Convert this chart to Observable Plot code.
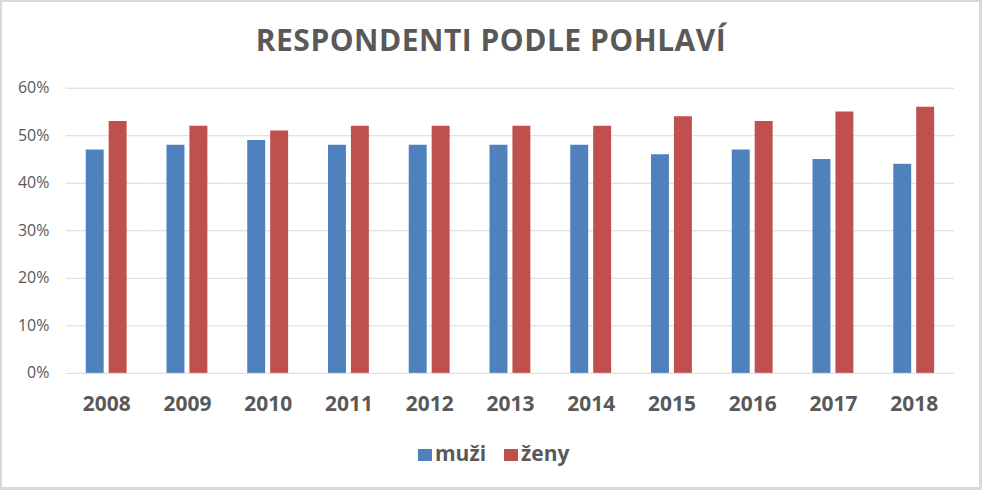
<!DOCTYPE html>
<html>
<head>
<meta charset="utf-8">
<script src="https://cdn.jsdelivr.net/npm/d3@7"></script>
<script src="https://cdn.jsdelivr.net/npm/@observablehq/plot@0.6"></script>
<style>
  html, body { margin: 0; padding: 0; background: #fff; }
  #wrap { position: relative; width: 982px; height: 490px; box-sizing: border-box; border: 2px solid #d9d9d9; border-right-width: 3px; border-bottom-width: 3px; overflow: hidden; font-family: "Open Sans", Lato, sans-serif; }
  #chart { position: absolute; left: -2px; top: -2px; }
  #title { position: absolute; left: -2px; width: 982px; top: 23px; line-height: 30px; text-align: center; font-size: 30px; font-weight: bold; letter-spacing: 0.5px; color: #595959; }
  #legend { position: absolute; left: 416px; top: 441px; display: flex; gap: 18px; font-size: 21px; line-height: 21px; font-weight: bold; color: #595959; }
  .item { display: flex; align-items: center; gap: 3px; }
  .sw { width: 14px; height: 12px; display: inline-block; margin-top: 3px; }
</style>
</head>
<body>
<div id="wrap">
  <div id="chart"></div>
  <div id="title">RESPONDENTI PODLE POHLAVÍ</div>
  <div id="legend"></div>
</div>
<script>
const years = ["2008","2009","2010","2011","2012","2013","2014","2015","2016","2017","2018"];
const series = ["muži", "ženy"];
const muzi = [0.47, 0.48, 0.49, 0.48, 0.48, 0.48, 0.48, 0.46, 0.47, 0.45, 0.44];
const zeny = [0.53, 0.52, 0.51, 0.52, 0.52, 0.52, 0.52, 0.54, 0.53, 0.55, 0.56];
const colors = ["#4f81bd", "#c0504d"];
const yTicks = [0, 0.1, 0.2, 0.3, 0.4, 0.5, 0.6];

const rows = [];
years.forEach((y, i) => {
  rows.push({year: y, sex: series[0], value: muzi[i]});
  rows.push({year: y, sex: series[1], value: zeny[i]});
});

const font = "'Open Sans', Lato, sans-serif";
const chart = Plot.plot({
  width: 982,
  height: 490,
  marginTop: 88,
  marginBottom: 116,
  marginLeft: 64,
  marginRight: 24,
  style: {fontFamily: font, background: "transparent"},
  fx: {domain: years, padding: 0, label: null},
  x: {domain: series, paddingInner: 0.21, paddingOuter: 0.83, axis: null},
  y: {domain: [0, 0.6], label: null},
  color: {domain: series, range: colors},
  marks: [
    Plot.gridY(yTicks, {stroke: "#d9d9d9", strokeOpacity: 1, strokeWidth: 1}),
    Plot.axisY(yTicks, {tickSize: 0, tickPadding: 17, tickFormat: d3.format(".0%"), fontSize: 16, fill: "#595959", label: null}),
    Plot.axisFx({anchor: "bottom", tickSize: 0, tickPadding: 23, fontSize: 21, fontWeight: "bold", fill: "#595959", label: null}),
    Plot.barY(rows, {fx: "year", x: "sex", y: "value", fill: "sex"})
  ]
});
document.getElementById("chart").appendChild(chart);

const legend = document.getElementById("legend");
series.forEach((s, i) => {
  const it = document.createElement("div");
  it.className = "item";
  const sw = document.createElement("span");
  sw.className = "sw";
  sw.style.background = colors[i];
  const t = document.createElement("span");
  t.textContent = s;
  it.appendChild(sw); it.appendChild(t);
  legend.appendChild(it);
});
</script>
</body>
</html>
